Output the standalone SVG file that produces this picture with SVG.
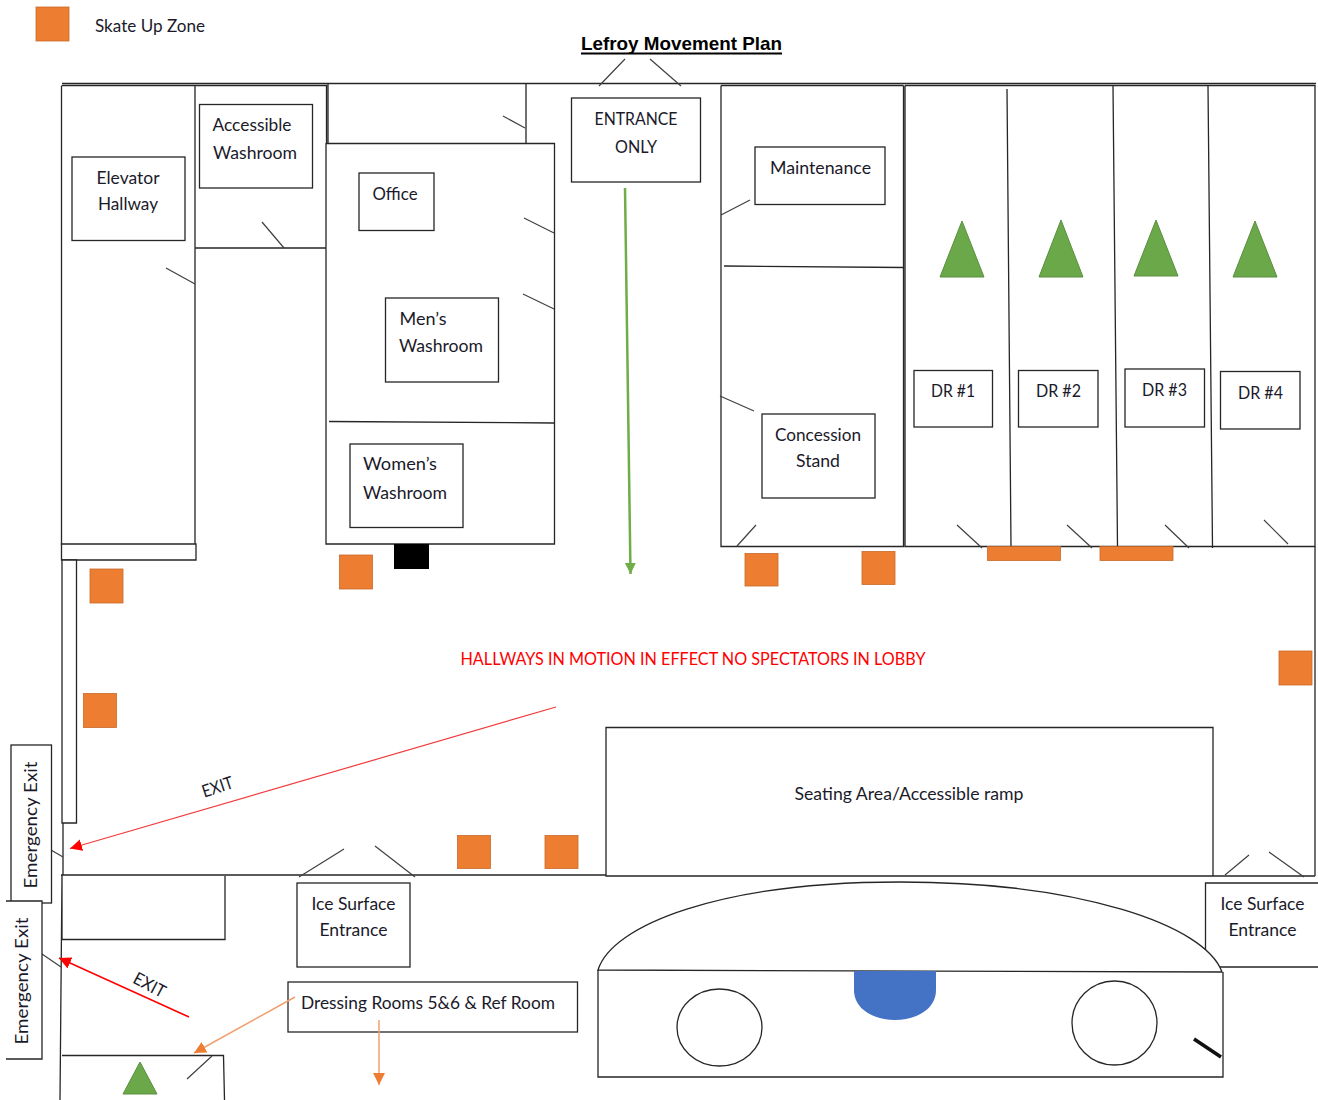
<svg xmlns="http://www.w3.org/2000/svg" width="1318" height="1100" viewBox="0 0 1318 1100">
<style>
.w{fill:none;stroke:#262626;stroke-width:1.3}
.d{fill:none;stroke:#404040;stroke-width:1.2}
.b{fill:#fff;stroke:#262626;stroke-width:1.3}
.o{fill:#ed7d31;stroke:#c9692a;stroke-width:.8}
.g{fill:#6aa84a;stroke:#5a8f3e;stroke-width:1}
text{font-family:Lato,"Open Sans","Liberation Sans",sans-serif;font-size:17.5px;fill:#1a1a2a;text-anchor:middle}
</style>
<defs>
<marker id="r" markerUnits="userSpaceOnUse" markerWidth="13" markerHeight="12" refX="12" refY="6" orient="auto"><path d="M0 0L12 6L0 12Z" fill="#f00"/></marker>
<marker id="a" markerUnits="userSpaceOnUse" markerWidth="13" markerHeight="12" refX="12" refY="6" orient="auto"><path d="M0 0L12 6L0 12Z" fill="#ed7d31"/></marker>
<marker id="n" markerUnits="userSpaceOnUse" markerWidth="12" markerHeight="12" refX="11" refY="5.500" orient="auto"><path d="M0 0L11 5.500L0 11Z" fill="#70ad47"/></marker>
</defs>
<rect width="1318" height="1100" fill="#fff"/>
<g id="walls">
<path class="w" d="M62 83.500H1316"/>
<path class="w" d="M62 85.500H326.500V143M61.500 85.500V545M195 85.500V545M195 248H326M328 84V143M526 84V143M326 143.500H554.500V544H326V143M329 421.500L554 423"/>
<path class="w" d="M721 85.500H903.500M721 85.500V546.500H903.500V85.500M724 266L904 267.500M905 85.500H1315V546.500H905V85.500M1007 89L1011 546M1113 86L1117.500 546M1208 86L1212.500 548"/>
<path class="b" d="M61.500 544H196V560H61.500Z"/>
<path class="b" d="M62 560H76.500V823H62Z"/>
<path class="w" d="M63 823V875M1315 546.500V876M61 875H606M606 727.500H1213V876H606ZM1213 876H1315M62 875L60 1100M62 875.500V939.500H225V876"/>
<path class="w" d="M62 1055.500H223.500L224.500 1100"/>
</g>
<g id="doors">
<path class="d" d="M599 86L625 59M650 59L681 86M503 116L525 128M262 222L284 248M166 268L195 284M524 218L554 233M523 294L554 309M750 200L721 215M754 411L720 396M756 525L737 546M957 525L982 548M1067 525L1092 548M1165 525L1189 548M1264 520L1288 544M51 850L63 857M42 954L61 967M299 877L344 849M375 846L415 877M1225 875L1249 855M1269 852L1304 877M187 1079L212 1056"/>
</g>
<g id="legend"><rect class="o" x="36" y="7" width="33" height="34"/><text x="150" y="32" textLength="110" lengthAdjust="spacingAndGlyphs">Skate Up Zone</text></g>
<g id="title"><text x="681.500" y="50" style="font-family:'Liberation Sans',sans-serif;font-size:19px;font-weight:700;fill:#000" textLength="201" lengthAdjust="spacingAndGlyphs">Lefroy Movement Plan</text><path d="M581 53.500H782" stroke="#000" stroke-width="2"/></g>
<g id="elevator"><rect class="b" x="72" y="157" width="113" height="83.500"/><text x="128" y="184" textLength="63" lengthAdjust="spacingAndGlyphs">Elevator</text><text x="128" y="210" textLength="60" lengthAdjust="spacingAndGlyphs">Hallway</text></g>
<g id="accessible"><rect class="b" x="199.500" y="104.500" width="113" height="83.500"/><text x="252" y="131" textLength="79" lengthAdjust="spacingAndGlyphs">Accessible</text><text x="255" y="159" textLength="84" lengthAdjust="spacingAndGlyphs">Washroom</text></g>
<g id="office"><rect class="b" x="359" y="173" width="75" height="57.500"/><text x="395" y="200" textLength="45" lengthAdjust="spacingAndGlyphs">Office</text></g>
<g id="mens"><rect class="b" x="385.500" y="298" width="113" height="84"/><text x="423" y="325" textLength="47" lengthAdjust="spacingAndGlyphs">Men’s</text><text x="441" y="352" textLength="84" lengthAdjust="spacingAndGlyphs">Washroom</text></g>
<g id="womens"><rect class="b" x="350" y="444" width="113" height="83.500"/><text x="400" y="470" textLength="74" lengthAdjust="spacingAndGlyphs">Women’s</text><text x="405" y="499" textLength="84" lengthAdjust="spacingAndGlyphs">Washroom</text></g>
<g id="entrance"><rect class="b" x="571.500" y="98" width="129" height="84"/><text x="636" y="125" textLength="83" lengthAdjust="spacingAndGlyphs">ENTRANCE</text><text x="636" y="153" textLength="42" lengthAdjust="spacingAndGlyphs">ONLY</text></g>
<g id="maintenance"><rect class="b" x="755" y="147" width="130" height="57.500"/><text x="820.500" y="174" textLength="101" lengthAdjust="spacingAndGlyphs">Maintenance</text></g>
<g id="concession"><rect class="b" x="762" y="414" width="113" height="84"/><text x="818" y="441" textLength="86" lengthAdjust="spacingAndGlyphs">Concession</text><text x="818" y="467" textLength="44" lengthAdjust="spacingAndGlyphs">Stand</text></g>
<g id="dr1"><rect class="b" x="914" y="370.500" width="78.500" height="56.500"/><text x="953" y="397" textLength="44" lengthAdjust="spacingAndGlyphs">DR #1</text></g>
<g id="dr2"><rect class="b" x="1018.500" y="370.500" width="79.500" height="56.500"/><text x="1058.500" y="397" textLength="45" lengthAdjust="spacingAndGlyphs">DR #2</text></g>
<g id="dr3"><rect class="b" x="1125" y="369" width="79.500" height="58"/><text x="1164.500" y="396" textLength="45" lengthAdjust="spacingAndGlyphs">DR #3</text></g>
<g id="dr4"><rect class="b" x="1220.500" y="371.500" width="79.500" height="57.500"/><text x="1260.500" y="398.500" textLength="45" lengthAdjust="spacingAndGlyphs">DR #4</text></g>
<g id="triangles">
<path class="g" d="M962 221L984 277H940Z"/><path class="g" d="M1061 220L1083 277H1039Z"/><path class="g" d="M1156 220L1178 276H1134Z"/><path class="g" d="M1255 221L1277 277H1233Z"/><path class="g" d="M140 1062L157 1094H123Z"/>
</g>
<g id="skate-zones">
<rect class="o" x="90" y="569" width="33" height="34"/><rect class="o" x="339.500" y="555" width="33" height="34"/><rect class="o" x="745" y="553.500" width="33" height="32.500"/><rect class="o" x="862" y="551.500" width="33" height="33"/><rect class="o" x="83.500" y="693.500" width="33" height="34"/><rect class="o" x="1279" y="651" width="33" height="34"/><rect class="o" x="457.500" y="835.500" width="33" height="33"/><rect class="o" x="545" y="835.500" width="33" height="33"/>
<rect class="o" x="987.500" y="546.500" width="73" height="14"/><rect class="o" x="1100" y="546.500" width="73" height="14"/>
</g>
<rect id="black-block" x="394" y="544" width="35" height="25" fill="#000"/>
<text id="notice" x="693" y="665" style="fill:#f00" textLength="465" lengthAdjust="spacingAndGlyphs">HALLWAYS IN MOTION IN EFFECT NO SPECTATORS IN LOBBY</text>
<text id="seating" x="909" y="800" textLength="229" lengthAdjust="spacingAndGlyphs">Seating Area/Accessible ramp</text>
<text x="217.500" y="793" transform="rotate(-18 217.500 787)" textLength="32" lengthAdjust="spacingAndGlyphs">EXIT</text>
<text x="149.500" y="991" transform="rotate(28 149.500 985)" textLength="34" lengthAdjust="spacingAndGlyphs">EXIT</text>
<g id="emergency-1"><rect class="b" x="11" y="745" width="40.500" height="158"/><text transform="translate(36.500 825) rotate(-90)" textLength="127" lengthAdjust="spacingAndGlyphs">Emergency Exit</text></g>
<g id="emergency-2"><path class="b" d="M6 901H42V1059H6"/><text transform="translate(28 981) rotate(-90)" textLength="127" lengthAdjust="spacingAndGlyphs">Emergency Exit</text></g>
<g id="ice1"><rect class="b" x="297" y="883" width="113" height="84"/><text x="353.500" y="910" textLength="84" lengthAdjust="spacingAndGlyphs">Ice Surface</text><text x="353.500" y="936" textLength="68" lengthAdjust="spacingAndGlyphs">Entrance</text></g>
<g id="ice2"><path class="b" d="M1318 883H1205.500V967H1318"/><text x="1262.500" y="910" textLength="84" lengthAdjust="spacingAndGlyphs">Ice Surface</text><text x="1262.500" y="936" textLength="68" lengthAdjust="spacingAndGlyphs">Entrance</text></g>
<g id="dressing"><rect class="b" x="288" y="982" width="289.500" height="50"/><text x="428" y="1009" textLength="254" lengthAdjust="spacingAndGlyphs">Dressing Rooms 5&amp;6 &amp; Ref Room</text></g>
<g id="rink">
<path d="M598 970C612 925 720 882 900 882C1080 882 1205 925 1222 972Z" fill="#fff" stroke="#262626" stroke-width="1.300"/>
<path d="M598 970V1077H1223V972" class="w"/>
<path d="M854 971H936V990C936 1010 915 1020 895 1020C875 1020 854 1010 854 990Z" fill="#4472c4"/>
<ellipse class="w" cx="719.500" cy="1027.500" rx="42.500" ry="38.500"/>
<ellipse class="w" cx="1114.500" cy="1023" rx="42.500" ry="42"/>
<path d="M1194 1039L1221 1057" fill="none" stroke="#111" stroke-width="3.500"/>
</g>
<g id="connectors">
<path d="M556 707L70 848.500" fill="none" stroke="#f23b3b" stroke-width="1.200" marker-end="url(#r)"/>
<path d="M189 1017L59 958" fill="none" stroke="#f00" stroke-width="1.500" marker-end="url(#r)"/>
<path d="M295 997L194 1053" fill="none" stroke="#f0a070" stroke-width="1.500" marker-end="url(#a)"/>
<path d="M379 1020V1085" fill="none" stroke="#f0a070" stroke-width="1.500" marker-end="url(#a)"/>
<path d="M625 188L630.500 574" fill="none" stroke="#70ad47" stroke-width="2.500" marker-end="url(#n)"/>
</g>
</svg>
